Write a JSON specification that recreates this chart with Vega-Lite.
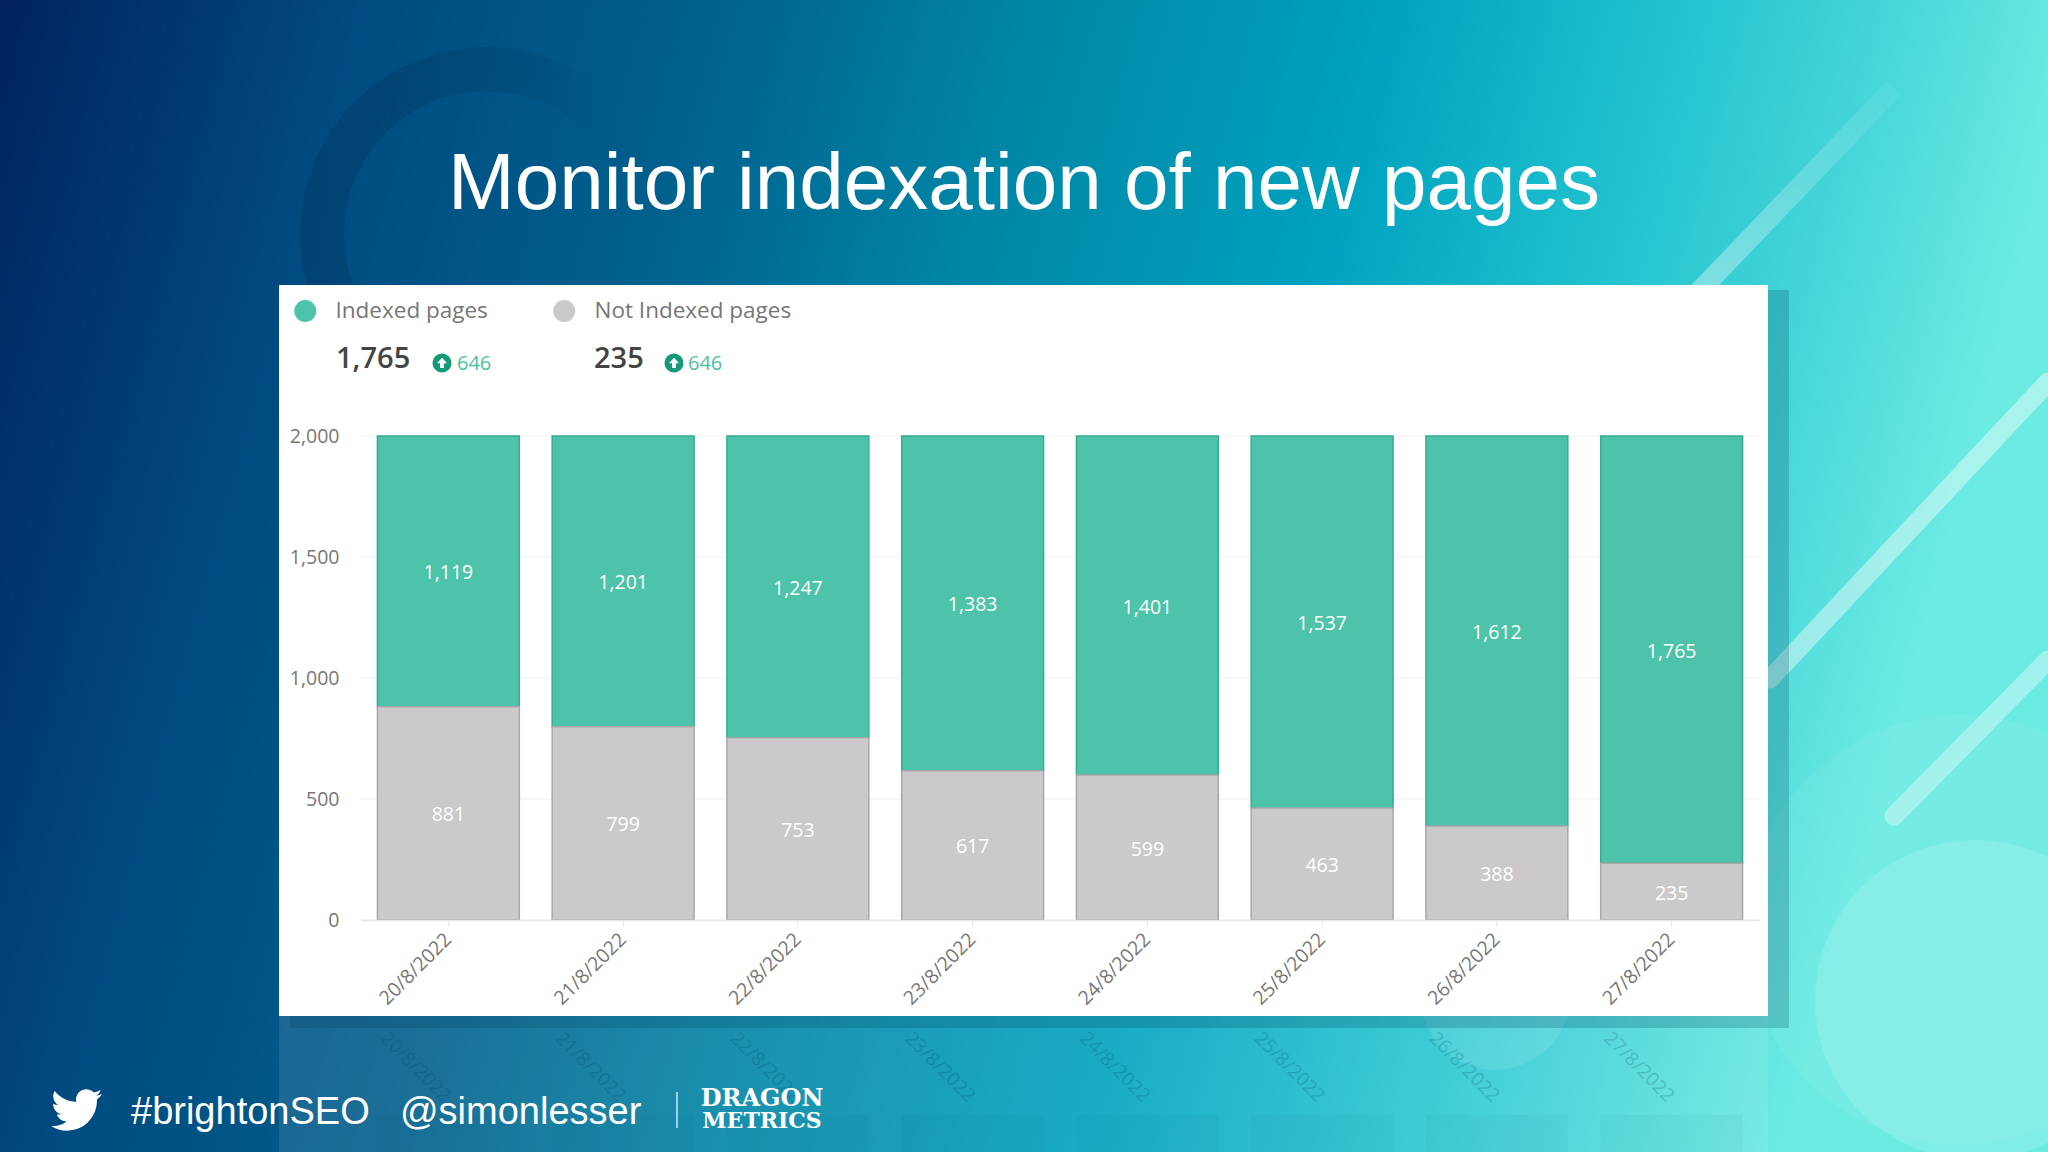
{
  "$schema": "https://vega.github.io/schema/vega-lite/v6.json",
  "autosize": "none",
  "padding": {"left": 361, "top": 436, "right": 289, "bottom": 232},
  "width": 1398,
  "height": 484,
  "background": "#00558d",
  "config": {"view": {"stroke": null}, "font": "Open Sans"},
  "title": {
    "text": "Monitor indexation of new pages",
    "font": "Liberation Sans",
    "fontSize": 80,
    "fontWeight": "normal",
    "color": "#ffffff",
    "anchor": "middle",
    "baseline": "alphabetic",
    "dx": -36,
    "offset": -308
  },
  "datasets": {
    "slide": [{"item": "decor"}],
    "pages": [
      {"date": "20/8/2022", "series": "Indexed pages", "pages": 1119},
      {"date": "20/8/2022", "series": "Not Indexed pages", "pages": 881},
      {"date": "21/8/2022", "series": "Indexed pages", "pages": 1201},
      {"date": "21/8/2022", "series": "Not Indexed pages", "pages": 799},
      {"date": "22/8/2022", "series": "Indexed pages", "pages": 1247},
      {"date": "22/8/2022", "series": "Not Indexed pages", "pages": 753},
      {"date": "23/8/2022", "series": "Indexed pages", "pages": 1383},
      {"date": "23/8/2022", "series": "Not Indexed pages", "pages": 617},
      {"date": "24/8/2022", "series": "Indexed pages", "pages": 1401},
      {"date": "24/8/2022", "series": "Not Indexed pages", "pages": 599},
      {"date": "25/8/2022", "series": "Indexed pages", "pages": 1537},
      {"date": "25/8/2022", "series": "Not Indexed pages", "pages": 463},
      {"date": "26/8/2022", "series": "Indexed pages", "pages": 1612},
      {"date": "26/8/2022", "series": "Not Indexed pages", "pages": 388},
      {"date": "27/8/2022", "series": "Indexed pages", "pages": 1765},
      {"date": "27/8/2022", "series": "Not Indexed pages", "pages": 235}
    ],
    "days": [
      {"date": "20/8/2022"}, {"date": "21/8/2022"}, {"date": "22/8/2022"}, {"date": "23/8/2022"},
      {"date": "24/8/2022"}, {"date": "25/8/2022"}, {"date": "26/8/2022"}, {"date": "27/8/2022"}
    ],
    "ticks": [{"tick": 0}, {"tick": 500}, {"tick": 1000}, {"tick": 1500}, {"tick": 2000}],
    "totals": [
      {"series": "Indexed pages", "total": "1,765", "change": "646"},
      {"series": "Not Indexed pages", "total": "235", "change": "646"}
    ]
  },
  "resolve": {"scale": {"x": "independent", "y": "independent", "color": "independent", "stroke": "independent"}},
  "layer": [
    {
      "data": {"name": "slide"},
      "mark": {"type": "rect", "fill": {"gradient": "linear", "x1": 0, "y1": 0, "x2": 1, "y2": 0.15, "stops": [
        {"offset": 0, "color": "#01225e"},
        {"offset": 0.167, "color": "#004a80"},
        {"offset": 0.334, "color": "#005f8c"},
        {"offset": 0.489, "color": "#0085a5"},
        {"offset": 0.668, "color": "#00a3bf"},
        {"offset": 0.812, "color": "#25c5d0"},
        {"offset": 0.9, "color": "#45d5d8"},
        {"offset": 1, "color": "#6cebe3"}
      ]}},
      "encoding": {
        "x": {"datum": 0, "type": "quantitative", "scale": {"domain": [0, 2048], "range": [-361, 1687], "nice": false}, "axis": null},
        "x2": {"datum": 2048},
        "y": {"datum": 0, "type": "quantitative", "scale": {"domain": [0, 1152], "range": [-436, 716], "nice": false}, "axis": null},
        "y2": {"datum": 1152}
      }
    },
    {
      "data": {"name": "slide"},
      "mark": {"type": "point", "shape": "circle", "filled": false, "strokeWidth": 44, "opacity": 1, "size": 108900, "stroke": {"gradient": "linear", "x1": 0, "y1": 0, "x2": 1, "y2": 0, "stops": [
        {"offset": 0, "color": "rgba(0,45,80,0.28)"},
        {"offset": 0.5, "color": "rgba(0,45,80,0.22)"},
        {"offset": 0.9, "color": "rgba(0,45,80,0)"}
      ]}},
      "encoding": {
        "x": {"datum": 487, "type": "quantitative", "scale": {"domain": [0, 2048], "range": [-361, 1687], "nice": false}, "axis": null},
        "y": {"datum": 234, "type": "quantitative", "scale": {"domain": [0, 1152], "range": [-436, 716], "nice": false}, "axis": null}
      }
    },
    {
      "data": {"name": "slide"},
      "mark": {"type": "point", "shape": "circle", "filled": true, "fill": "#ffffff", "opacity": 0.06, "size": 184900},
      "encoding": {
        "x": {"datum": 1960, "type": "quantitative", "scale": {"domain": [0, 2048], "range": [-361, 1687], "nice": false}, "axis": null},
        "y": {"datum": 930, "type": "quantitative", "scale": {"domain": [0, 1152], "range": [-436, 716], "nice": false}, "axis": null}
      }
    },
    {
      "data": {"name": "slide"},
      "mark": {"type": "point", "shape": "circle", "filled": true, "fill": "#ffffff", "opacity": 0.14, "size": 102400},
      "encoding": {
        "x": {"datum": 1975, "type": "quantitative", "scale": {"domain": [0, 2048], "range": [-361, 1687], "nice": false}, "axis": null},
        "y": {"datum": 1000, "type": "quantitative", "scale": {"domain": [0, 1152], "range": [-436, 716], "nice": false}, "axis": null}
      }
    },
    {
      "data": {"name": "slide"},
      "mark": {"type": "point", "shape": "circle", "filled": true, "fill": "#ffffff", "opacity": 0.1, "size": 22500},
      "encoding": {
        "x": {"datum": 1495, "type": "quantitative", "scale": {"domain": [0, 2048], "range": [-361, 1687], "nice": false}, "axis": null},
        "y": {"datum": 995, "type": "quantitative", "scale": {"domain": [0, 1152], "range": [-436, 716], "nice": false}, "axis": null}
      }
    },
    {
      "data": {"name": "slide"},
      "mark": {"type": "rule", "strokeWidth": 20, "stroke": {"gradient": "linear", "x1": 0, "y1": 1, "x2": 1, "y2": 0, "stops": [
        {"offset": 0, "color": "rgba(255,255,255,0.4)"},
        {"offset": 1, "color": "rgba(255,255,255,0.04)"}
      ]}},
      "encoding": {
        "x": {"datum": 1691, "type": "quantitative", "scale": {"domain": [0, 2048], "range": [-361, 1687], "nice": false}, "axis": null},
        "x2": {"datum": 1894},
        "y": {"datum": 300, "type": "quantitative", "scale": {"domain": [0, 1152], "range": [-436, 716], "nice": false}, "axis": null},
        "y2": {"datum": 88}
      }
    },
    {
      "data": {"name": "slide"},
      "mark": {"type": "rule", "color": "#ffffff", "opacity": 0.42, "strokeWidth": 19, "strokeCap": "round"},
      "encoding": {
        "x": {"datum": 1770, "type": "quantitative", "scale": {"domain": [0, 2048], "range": [-361, 1687], "nice": false}, "axis": null},
        "x2": {"datum": 2048},
        "y": {"datum": 679, "type": "quantitative", "scale": {"domain": [0, 1152], "range": [-436, 716], "nice": false}, "axis": null},
        "y2": {"datum": 382}
      }
    },
    {
      "data": {"name": "slide"},
      "mark": {"type": "rule", "color": "#ffffff", "opacity": 0.35, "strokeWidth": 19, "strokeCap": "round"},
      "encoding": {
        "x": {"datum": 1894, "type": "quantitative", "scale": {"domain": [0, 2048], "range": [-361, 1687], "nice": false}, "axis": null},
        "x2": {"datum": 2048},
        "y": {"datum": 816, "type": "quantitative", "scale": {"domain": [0, 1152], "range": [-436, 716], "nice": false}, "axis": null},
        "y2": {"datum": 660}
      }
    },
    {
      "data": {"name": "slide"},
      "mark": {"type": "rect", "fill": "#ffffff", "opacity": 0.1},
      "encoding": {
        "x": {"datum": 279, "type": "quantitative", "scale": {"domain": [0, 2048], "range": [-361, 1687], "nice": false}, "axis": null},
        "x2": {"datum": 1768},
        "y": {"datum": 1016, "type": "quantitative", "scale": {"domain": [0, 1152], "range": [-436, 716], "nice": false}, "axis": null},
        "y2": {"datum": 1152}
      }
    },
    {
      "data": {"name": "slide"},
      "mark": {"type": "rect", "fill": "#00405a", "opacity": 0.22},
      "encoding": {
        "x": {"datum": 290, "type": "quantitative", "scale": {"domain": [0, 2048], "range": [-361, 1687], "nice": false}, "axis": null},
        "x2": {"datum": 1789},
        "y": {"datum": 290, "type": "quantitative", "scale": {"domain": [0, 1152], "range": [-436, 716], "nice": false}, "axis": null},
        "y2": {"datum": 1028}
      }
    },
    {
      "data": {"name": "days"},
      "mark": {"type": "rect", "fill": "#00405a", "opacity": 0.04},
      "encoding": {
        "x": {"field": "date", "type": "nominal", "scale": {"type": "band", "paddingInner": 0.188, "paddingOuter": 0.094}, "axis": null},
        "y": {"datum": 1115, "type": "quantitative", "scale": {"domain": [0, 1152], "range": [-436, 716], "nice": false}, "axis": null},
        "y2": {"datum": 1152}
      }
    },
    {
      "data": {"name": "days"},
      "mark": {"type": "text", "angle": 45, "align": "center", "baseline": "middle", "dx": -23, "dy": 23, "fontSize": 19, "color": "#00405a", "opacity": 0.2},
      "encoding": {
        "x": {"field": "date", "type": "nominal", "scale": {"type": "band", "paddingInner": 0.188, "paddingOuter": 0.094}, "axis": null},
        "y": {"datum": 1067, "type": "quantitative", "scale": {"domain": [0, 1152], "range": [-436, 716], "nice": false}, "axis": null},
        "text": {"field": "date"}
      }
    },
    {
      "data": {"name": "slide"},
      "mark": {"type": "rect", "fill": "#ffffff"},
      "encoding": {
        "x": {"datum": 279, "type": "quantitative", "scale": {"domain": [0, 2048], "range": [-361, 1687], "nice": false}, "axis": null},
        "x2": {"datum": 1768},
        "y": {"datum": 285, "type": "quantitative", "scale": {"domain": [0, 1152], "range": [-436, 716], "nice": false}, "axis": null},
        "y2": {"datum": 1016}
      }
    },
    {
      "data": {"name": "ticks"},
      "mark": {"type": "rule", "color": "#f5f5f5", "strokeWidth": 1.5},
      "encoding": {
        "y": {"field": "tick", "type": "quantitative", "scale": {"domain": [0, 2000], "nice": false}, "axis": null}
      }
    },
    {
      "data": {"name": "pages"},
      "mark": {"type": "bar", "strokeWidth": 1.5},
      "encoding": {
        "x": {
          "field": "date",
          "type": "nominal",
          "title": null,
          "scale": {"type": "band", "paddingInner": 0.188, "paddingOuter": 0.094},
          "axis": {
            "zindex": 1,
            "labelAngle": -45,
            "labelAlign": "right",
            "labelBaseline": "middle",
            "labelFont": "Open Sans",
            "labelFontSize": 19.5,
            "labelColor": "#777777",
            "labelPadding": 10,
            "labelOverlap": false,
            "tickColor": "#e6e6e6",
            "tickSize": 6,
            "domainColor": "#e6e6e6",
            "domainWidth": 1.5
          }
        },
        "y": {
          "field": "pages",
          "type": "quantitative",
          "title": null,
          "scale": {"domain": [0, 2000], "nice": false},
          "axis": {
            "zindex": 1,
            "values": [0, 500, 1000, 1500, 2000],
            "format": ",d",
            "grid": false,
            "domain": false,
            "ticks": false,
            "labelFont": "Open Sans",
            "labelFontSize": 19.5,
            "labelColor": "#777777",
            "labelPadding": 22
          }
        },
        "color": {
          "field": "series",
          "type": "nominal",
          "scale": {"domain": ["Indexed pages", "Not Indexed pages"], "range": ["#4dc3a9", "#cbc9cb"]},
          "legend": {
            "orient": "none",
            "legendX": -67,
            "legendY": -138,
            "direction": "horizontal",
            "columns": 2,
            "title": null,
            "symbolType": "circle",
            "symbolSize": 484,
            "symbolStrokeWidth": 0,
            "labelFont": "Open Sans",
            "labelFontSize": 22.5,
            "labelColor": "#777777",
            "labelOffset": 19,
            "labelLimit": 300,
            "columnPadding": 65,
            "clipHeight": 26
          }
        },
        "stroke": {
          "field": "series",
          "type": "nominal",
          "scale": {"domain": ["Indexed pages", "Not Indexed pages"], "range": ["#36ad91", "#a9a8a9"]},
          "legend": null
        }
      }
    },
    {
      "data": {"name": "pages"},
      "mark": {"type": "text", "color": "#ffffff", "fontSize": 19.5, "baseline": "middle", "align": "center", "dy": 2},
      "encoding": {
        "x": {"field": "date", "type": "nominal", "scale": {"type": "band", "paddingInner": 0.188, "paddingOuter": 0.094}, "axis": null},
        "y": {"field": "pages", "type": "quantitative", "stack": "zero", "bandPosition": 0.5, "scale": {"domain": [0, 2000], "nice": false}, "axis": null},
        "detail": {"field": "series"},
        "order": {"field": "series", "sort": "descending"},
        "text": {"field": "pages", "type": "quantitative", "format": ",d"}
      }
    },
    {
      "data": {"name": "totals"},
      "mark": {"type": "text", "align": "left", "baseline": "alphabetic", "fontSize": 29, "fontWeight": 600, "color": "#444444"},
      "encoding": {
        "x": {"field": "series", "type": "nominal", "scale": {"type": "point", "padding": 0, "domain": ["Indexed pages", "Not Indexed pages"], "range": [-25, 233]}, "axis": null},
        "y": {"datum": 368, "type": "quantitative", "scale": {"domain": [0, 1152], "range": [-436, 716], "nice": false}, "axis": null},
        "text": {"field": "total"}
      }
    },
    {
      "data": {"name": "totals"},
      "mark": {"type": "point", "shape": "circle", "filled": true, "fill": "#149a77", "opacity": 1, "size": 361},
      "encoding": {
        "x": {"field": "series", "type": "nominal", "scale": {"type": "point", "padding": 0, "domain": ["Indexed pages", "Not Indexed pages"], "range": [81, 313]}, "axis": null},
        "y": {"datum": 363, "type": "quantitative", "scale": {"domain": [0, 1152], "range": [-436, 716], "nice": false}, "axis": null}
      }
    },
    {
      "data": {"name": "totals"},
      "mark": {"type": "point", "shape": "M0 -0.38L0.36 0.02L0.14 0.02L0.14 0.36L-0.14 0.36L-0.14 0.02L-0.36 0.02Z", "filled": true, "fill": "#ffffff", "opacity": 1, "size": 784},
      "encoding": {
        "x": {"field": "series", "type": "nominal", "scale": {"type": "point", "padding": 0, "domain": ["Indexed pages", "Not Indexed pages"], "range": [81, 313]}, "axis": null},
        "y": {"datum": 363, "type": "quantitative", "scale": {"domain": [0, 1152], "range": [-436, 716], "nice": false}, "axis": null}
      }
    },
    {
      "data": {"name": "totals"},
      "mark": {"type": "text", "align": "left", "baseline": "alphabetic", "fontSize": 20, "color": "#4dbfa4"},
      "encoding": {
        "x": {"field": "series", "type": "nominal", "scale": {"type": "point", "padding": 0, "domain": ["Indexed pages", "Not Indexed pages"], "range": [96, 327]}, "axis": null},
        "y": {"datum": 370, "type": "quantitative", "scale": {"domain": [0, 1152], "range": [-436, 716], "nice": false}, "axis": null},
        "text": {"field": "change"}
      }
    },
    {
      "data": {"name": "slide"},
      "mark": {"type": "point", "shape": "M23.643 4.937c-.835.37-1.732.62-2.675.733.962-.576 1.7-1.49 2.048-2.578-.9.534-1.897.922-2.958 1.13-.85-.904-2.06-1.47-3.4-1.47-2.572 0-4.658 2.086-4.658 4.66 0 .364.042.718.12 1.06-3.873-.195-7.304-2.05-9.602-4.868-.4.69-.63 1.49-.63 2.342 0 1.616.823 3.043 2.072 3.878-.764-.025-1.482-.234-2.11-.583v.06c0 2.257 1.605 4.14 3.737 4.568-.392.106-.803.162-1.227.162-.3 0-.593-.028-.877-.082.593 1.85 2.313 3.198 4.352 3.234-1.595 1.25-3.604 1.995-5.786 1.995-.376 0-.747-.022-1.112-.065 2.062 1.323 4.51 2.093 7.14 2.093 8.57 0 13.255-7.098 13.255-13.254 0-.2-.005-.402-.014-.602.91-.658 1.7-1.477 2.323-2.41z", "filled": true, "fill": "#ffffff", "opacity": 1, "size": 20.2},
      "encoding": {
        "x": {"datum": 49, "type": "quantitative", "scale": {"domain": [0, 2048], "range": [-361, 1687], "nice": false}, "axis": null},
        "y": {"datum": 1083, "type": "quantitative", "scale": {"domain": [0, 1152], "range": [-436, 716], "nice": false}, "axis": null}
      }
    },
    {
      "data": {"values": [{"label": "#brightonSEO"}]},
      "mark": {"type": "text", "font": "Liberation Sans", "fontSize": 38, "color": "#ffffff", "align": "left", "baseline": "alphabetic"},
      "encoding": {
        "x": {"datum": 131, "type": "quantitative", "scale": {"domain": [0, 2048], "range": [-361, 1687], "nice": false}, "axis": null},
        "y": {"datum": 1124, "type": "quantitative", "scale": {"domain": [0, 1152], "range": [-436, 716], "nice": false}, "axis": null},
        "text": {"field": "label"}
      }
    },
    {
      "data": {"values": [{"label": "@simonlesser"}]},
      "mark": {"type": "text", "font": "Liberation Sans", "fontSize": 38, "color": "#ffffff", "align": "left", "baseline": "alphabetic"},
      "encoding": {
        "x": {"datum": 400, "type": "quantitative", "scale": {"domain": [0, 2048], "range": [-361, 1687], "nice": false}, "axis": null},
        "y": {"datum": 1124, "type": "quantitative", "scale": {"domain": [0, 1152], "range": [-436, 716], "nice": false}, "axis": null},
        "text": {"field": "label"}
      }
    },
    {
      "data": {"name": "slide"},
      "mark": {"type": "rule", "color": "#ffffff", "strokeWidth": 1.5, "opacity": 0.8},
      "encoding": {
        "x": {"datum": 677, "type": "quantitative", "scale": {"domain": [0, 2048], "range": [-361, 1687], "nice": false}, "axis": null},
        "y": {"datum": 1092, "type": "quantitative", "scale": {"domain": [0, 1152], "range": [-436, 716], "nice": false}, "axis": null},
        "y2": {"datum": 1128}
      }
    },
    {
      "data": {"values": [{"label": "DRAGON"}]},
      "mark": {"type": "text", "font": "DejaVu Serif", "fontWeight": "bold", "fontSize": 24, "color": "#ffffff", "align": "center", "baseline": "alphabetic"},
      "encoding": {
        "x": {"datum": 762, "type": "quantitative", "scale": {"domain": [0, 2048], "range": [-361, 1687], "nice": false}, "axis": null},
        "y": {"datum": 1106, "type": "quantitative", "scale": {"domain": [0, 1152], "range": [-436, 716], "nice": false}, "axis": null},
        "text": {"field": "label"}
      }
    },
    {
      "data": {"values": [{"label": "METRICS"}]},
      "mark": {"type": "text", "font": "DejaVu Serif", "fontWeight": "bold", "fontSize": 22, "color": "#ffffff", "align": "center", "baseline": "alphabetic"},
      "encoding": {
        "x": {"datum": 762, "type": "quantitative", "scale": {"domain": [0, 2048], "range": [-361, 1687], "nice": false}, "axis": null},
        "y": {"datum": 1128, "type": "quantitative", "scale": {"domain": [0, 1152], "range": [-436, 716], "nice": false}, "axis": null},
        "text": {"field": "label"}
      }
    }
  ]
}
